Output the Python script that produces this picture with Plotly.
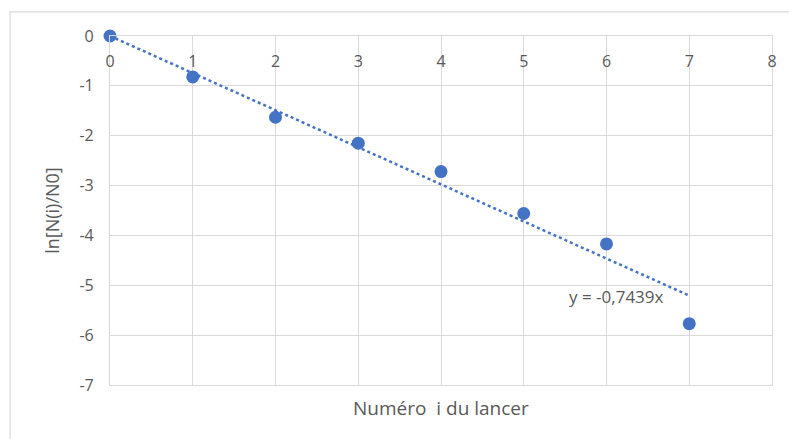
import plotly.graph_objects as go

x_vals = [0, 1, 2, 3, 4, 5, 6, 7]
y_vals = [0, -0.82, -1.63, -2.15, -2.72, -3.56, -4.17, -5.77]
slope = -0.7439
x_ticks = [0, 1, 2, 3, 4, 5, 6, 7, 8]
y_ticks = [0, -1, -2, -3, -4, -5, -6, -7]
y_tick_text = ["0", "-1", "-2", "-3", "-4", "-5", "-6", "-7"]
eq_label = "y = -0,7439x"
x_title = "Numéro  i du lancer"
y_title = "ln[N(i)/N0]"

blue = "#4472C4"
grid = "#d9d9d9"
txt = "#595959"
font_family = "Open Sans, Noto Sans, sans-serif"

fig = go.Figure()
trend_x = [min(x_vals), max(x_vals)]
trend_y = [slope * v for v in trend_x]
fig.add_trace(go.Scatter(x=trend_x, y=trend_y, mode="lines",
                         line=dict(color=blue, width=2.5, dash="dot"),
                         hoverinfo="skip", showlegend=False, cliponaxis=False))
fig.add_trace(go.Scatter(x=x_vals, y=y_vals, mode="markers",
                         marker=dict(color=blue, size=13),
                         showlegend=False, cliponaxis=False))

fig.add_annotation(x=6.12, y=-5.23, xref="x", yref="y", text=eq_label,
                   showarrow=False, font=dict(family=font_family, size=17, color=txt))
fig.add_annotation(x=0.5, y=0, xref="paper", yref="paper", yanchor="top",
                   yshift=-8, text=x_title, showarrow=False,
                   font=dict(family=font_family, size=19, color=txt))

fig.add_shape(type="rect", xref="paper", yref="paper",
              x0=-0.151, x1=1.2, y0=-0.3, y1=1.069,
              line=dict(color=grid, width=1.2), layer="below")

fig.update_layout(
    width=789, height=439,
    margin=dict(l=110, r=17, t=36, b=54),
    paper_bgcolor="white", plot_bgcolor="white",
    font=dict(family=font_family, size=16, color=txt),
    xaxis=dict(range=[0, 8], tickvals=x_ticks, side="top", automargin=False,
               ticklabelposition="inside", ticklabeloverflow="allow",
               ticklabelstandoff=20,
               showgrid=True, gridcolor=grid,
               gridwidth=1.2, zeroline=False, showline=True, linecolor=grid,
               linewidth=1.2, mirror=True, ticks="",
               tickfont=dict(family=font_family, size=16, color=txt)),
    yaxis=dict(range=[-7, 0], tickvals=y_ticks, ticktext=y_tick_text,
               automargin=False, showgrid=True, gridcolor=grid,
               gridwidth=1.2, zeroline=False, showline=True, linecolor=grid,
               linewidth=1.2, mirror=True, ticks="", ticklabelstandoff=12,
               title=dict(text=y_title, standoff=15,
                          font=dict(family=font_family, size=18, color=txt)),
               tickfont=dict(family=font_family, size=16, color=txt)),
)

fig.write_html("out.html", config={"displayModeBar": False},
               post_script="document.body.style.margin='0px';")
